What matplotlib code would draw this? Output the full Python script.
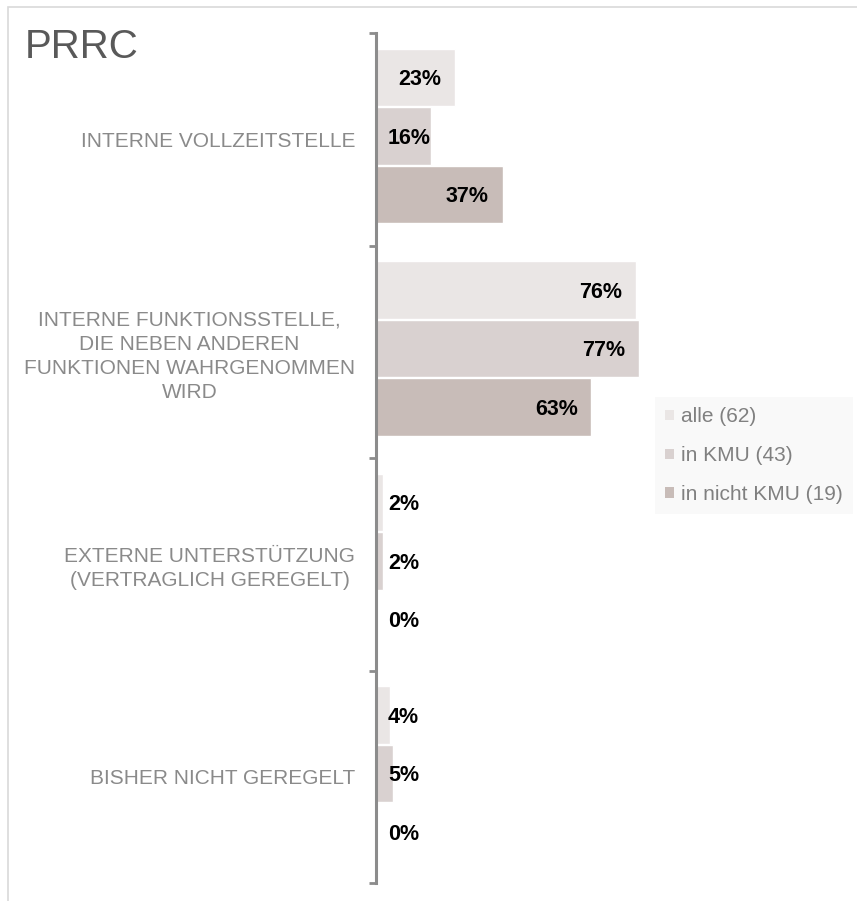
import numpy as np
import matplotlib.pyplot as plt
from matplotlib.patches import Patch, Rectangle

plt.rcParams['font.family'] = ['Liberation Sans', 'DejaVu Sans']

kategorien = [
    'INTERNE VOLLZEITSTELLE',
    'INTERNE FUNKTIONSSTELLE,\nDIE NEBEN ANDEREN\nFUNKTIONEN WAHRGENOMMEN\nWIRD',
    'EXTERNE UNTERSTÜTZUNG\n(VERTRAGLICH GEREGELT)',
    'BISHER NICHT GEREGELT',
]
serien = ['alle (62)', 'in KMU (43)', 'in nicht KMU (19)']
alle = [23, 76, 2, 4]
kmu = [16, 77, 2, 5]
nicht_kmu = [37, 63, 0, 0]
farben = ['#eae6e5', '#d9d1d0', '#c8bcb8']

fig = plt.figure(figsize=(8.57, 9.01), dpi=100)
fig.patch.set_facecolor('white')
# Rahmen des Diagrammbereichs (oben und links sichtbar)
fig.patches.append(Rectangle((8 / 857, -0.1), 1.2, 1 - 7 / 901 + 0.1,
                             transform=fig.transFigure, fill=False,
                             edgecolor='#d9d9d9', linewidth=1.2))

ax = fig.add_axes([376 / 857, 18 / 901, 342 / 857, 850 / 901])

pos = np.arange(len(kategorien)) + 0.5
hoehe = 0.27
offsets = [-0.29, -0.015, 0.26]
for werte, farbe, off, name in zip([alle, kmu, nicht_kmu], farben, offsets, serien):
    ax.barh(pos + off, werte, height=hoehe, color=farbe, edgecolor='white',
            linewidth=1, label=name)
    for y, v in zip(pos + off, werte):
        if v >= 20:
            ax.text(v - 4, y + 0.01, f'{v}%', ha='right', va='center',
                    fontsize=15.5, fontweight='bold', color='black')
        else:
            ax.text(3.5, y + 0.01, f'{v}%', ha='left', va='center',
                    fontsize=15.5, fontweight='bold', color='black')

ax.set_xlim(0, 100)
ax.set_ylim(len(kategorien), 0)
ax.set_xticks([])
for s in ['top', 'right', 'bottom']:
    ax.spines[s].set_visible(False)
ax.spines['left'].set_color('#8c8c8c')
ax.spines['left'].set_linewidth(2.2)

ax.set_yticks(pos)
ax.set_yticklabels(kategorien, fontsize=15, color='#8a8a8a')
for lbl in ax.get_yticklabels():
    lbl.set_multialignment('center')
    lbl.set_linespacing(1.35)
ax.tick_params(axis='y', which='major', length=0, pad=15)
ax.set_yticks(np.arange(len(kategorien) + 1), minor=True)
ax.tick_params(axis='y', which='minor', length=5, width=2, color='#8c8c8c')

fig.text(25 / 857, 1 - 58 / 901, 'PRRC', fontsize=29, color='#595959')

handles = [Patch(facecolor=f, edgecolor='none') for f in farben]
leg = fig.legend(handles, serien, loc='upper left',
                 bbox_to_anchor=(655 / 857, 1 - 397 / 901),
                 fontsize=15, labelcolor='#808080', frameon=True,
                 fancybox=False, handlelength=0.4, handleheight=0.4,
                 handletextpad=0.35, labelspacing=0.95, borderpad=0.5,
                 borderaxespad=0)
leg.get_frame().set_facecolor('#f8f8f8')
leg.get_frame().set_edgecolor('none')

fig.savefig('out.png', dpi=100)
